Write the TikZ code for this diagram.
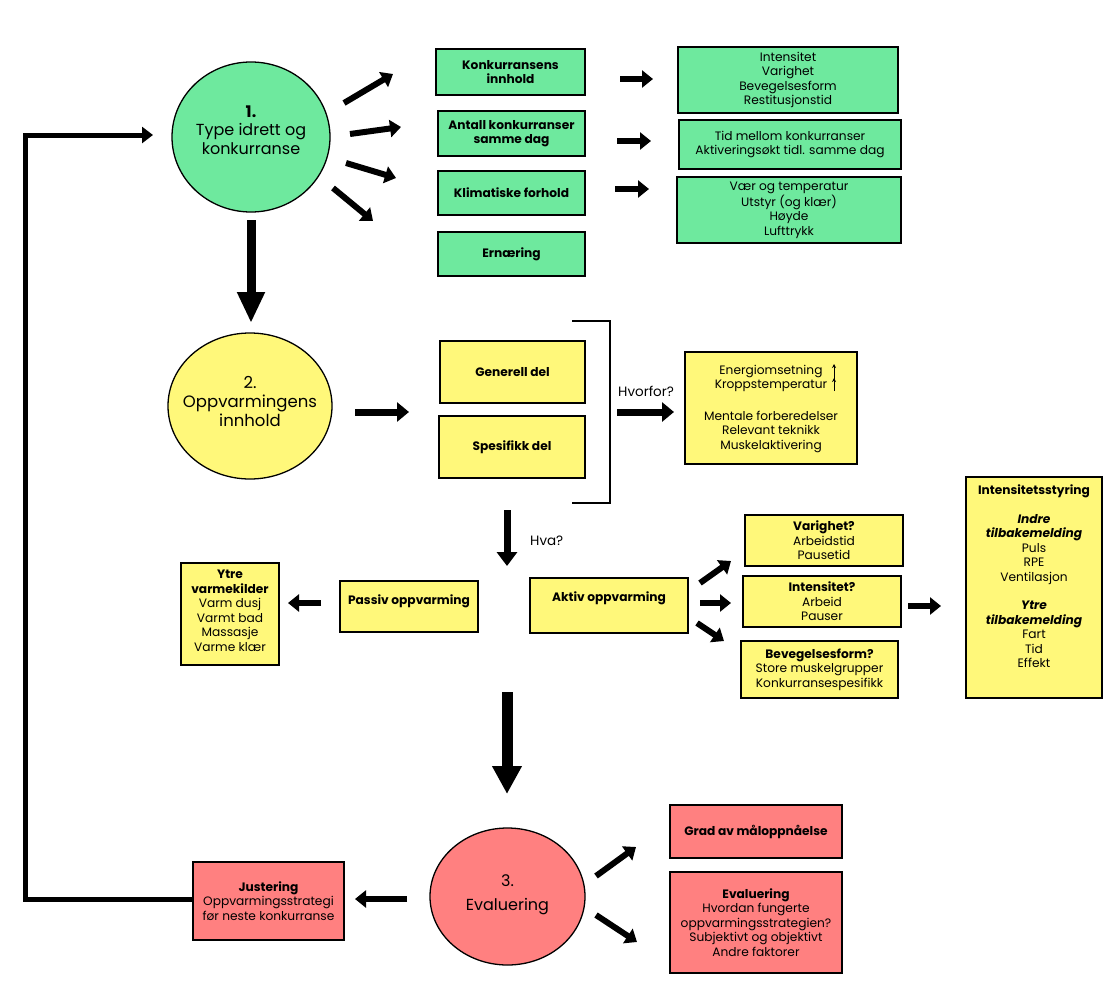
\documentclass[tikz,border=0pt]{standalone}
\usepackage{fontspec}
\setmainfont{Poppins}
\usetikzlibrary{arrows.meta,shapes.geometric,calc}
\definecolor{grn}{RGB}{110,233,158}
\definecolor{yel}{RGB}{255,248,122}
\definecolor{rd}{RGB}{255,128,128}
\tikzset{
  bx/.style={draw, line width=1.6pt, inner sep=0pt, align=center, font=\fontsize{12.2}{14.5}\selectfont},
  gb/.style={bx, fill=grn},
  yb/.style={bx, fill=yel},
  rb/.style={bx, fill=rd},
  bf/.style={font=\bfseries\fontsize{12.2}{14.5}\selectfont},
  circ/.style={ellipse, draw, line width=1.3pt, inner sep=0pt},
  arr/.style={line width=6pt, -{Triangle[length=11pt,width=17pt]}},
  txt/.style={align=center, inner sep=0pt, font=\fontsize{12.2}{14.5}\selectfont},
}
\begin{document}
\begin{tikzpicture}[x=1pt,y=-1pt]
\useasboundingbox (0,0) rectangle (1110,982);
% ---------- section 1 ----------
\node[circ, fill=grn, minimum width=158, minimum height=150] (c1) at (251,137) {};
\node[txt, font=\fontsize{16}{18.5}\selectfont] (c1t) at (251,130) {\textbf{1.}\\Type idrett og\\konkurranse};

\node[gb, bf, minimum width=149, minimum height=46] (k1) at (510.5,72) {Konkurransens\\innhold};
\node[gb, bf, minimum width=147, minimum height=45] (k2) at (511.5,133.5) {Antall konkurranser\\samme dag};
\node[gb, bf, minimum width=147, minimum height=44] (k3) at (511.5,193) {Klimatiske forhold};
\node[gb, bf, minimum width=147, minimum height=44] (k4) at (511.5,254) {Ernæring};

\node[gb, minimum width=220, minimum height=66] (d1) at (788,80) {Intensitet\\Varighet\\Bevegelsesform\\Restitusjonstid};
\node[gb, minimum width=222, minimum height=49] (d2) at (790,144.5) {Tid mellom konkurranser\\Aktiveringsøkt tidl. samme dag};
\node[gb, minimum width=224, minimum height=66] (d3) at (789,210) {Vær og temperatur\\Utstyr (og klær)\\Høyde\\Lufttrykk};

\coordinate (a1s) at (344,103); \coordinate (a1e) at (393,74);
\coordinate (a2s) at (350,134); \coordinate (a2e) at (401,127);
\coordinate (a3s) at (346,163); \coordinate (a3e) at (396,178);
\coordinate (a4s) at (333,188); \coordinate (a4e) at (373,221);
\draw[arr] (a1s) -- (a1e);
\draw[arr] (a2s) -- (a2e);
\draw[arr] (a3s) -- (a3e);
\draw[arr] (a4s) -- (a4e);

\coordinate (b1s) at (620,79); \coordinate (b1e) at (653,79);
\coordinate (b2s) at (617,141); \coordinate (b2e) at (651,141);
\coordinate (b3s) at (615,189); \coordinate (b3e) at (649,189);
\draw[arr] (b1s) -- (b1e);
\draw[arr] (b2s) -- (b2e);
\draw[arr] (b3s) -- (b3e);

\coordinate (dn1s) at (251,220); \coordinate (dn1e) at (251,323);
\draw[line width=9pt, -{Triangle[length=31pt,width=26pt]}] (dn1s) -- (dn1e);

% ---------- section 2 ----------
\node[circ, fill=yel, minimum width=164, minimum height=146] (c2) at (250,406) {};
\node[txt, font=\fontsize{16.5}{19}\selectfont] (c2t) at (250,401) {2.\\Oppvarmingens\\innhold};

\node[yb, bf, minimum width=145, minimum height=62] (g1) at (512.5,372) {Generell del};
\node[yb, bf, minimum width=146, minimum height=62] (g2) at (512,447) {Spesifikk del};

\coordinate (c2s) at (355,412); \coordinate (c2e) at (409,412);
\draw[line width=7pt, -{Triangle[length=12pt,width=19pt]}] (c2s) -- (c2e);
\coordinate (br1) at (572,321); \coordinate (br2) at (610,321);
\coordinate (br3) at (610,503); \coordinate (br4) at (572,503);
\draw[line width=1.6pt] (br1) -- (br2) -- (br3) -- (br4);

\node[txt, font=\fontsize{13.5}{16}\selectfont, anchor=west] (hv) at (618,391) {Hvorfor?};
\node[yb, minimum width=172, minimum height=112] (why) at (771,408) {};
\node[txt, anchor=north] (whyt) at (771,365) {Energiomsetning\\Kroppstemperatur\\[17pt]Mentale forberedelser\\Relevant teknikk\\Muskelaktivering};
\coordinate (hws) at (617,412); \coordinate (hwe) at (674,412);
\draw[line width=7pt, -{Triangle[length=12pt,width=19pt]}] (hws) -- (hwe);
\coordinate (ua) at (834,380);
\coordinate (ub) at (834,391);
\draw[line width=1pt, -{Stealth[length=4pt,width=4pt]}] (ua) -- ++(0,-16);
\draw[line width=1pt, -{Stealth[length=4pt,width=4pt]}] (ub) -- ++(0,-13);

\coordinate (hvs) at (507,510); \coordinate (hve) at (507,566);
\draw[line width=7pt, -{Triangle[length=14pt,width=20pt]}] (hvs) -- (hve);
\node[txt, font=\fontsize{13.5}{16}\selectfont, anchor=west] (hva) at (530,541) {Hva?};

\node[yb, minimum width=138, minimum height=51] (pas) at (409,606.5) {};
\node[txt, bf] (past) at (409,601) {Passiv oppvarming};
\node[yb, minimum width=158, minimum height=55] (akt) at (609,605.5) {};
\node[txt, bf] (aktt) at (609,598) {Aktiv oppvarming};

\node[yb, minimum width=98, minimum height=102] (ytre) at (230,614) {};
\node[txt] (ytret) at (230,611) {\textbf{Ytre}\\\textbf{varmekilder}\\Varm dusj\\Varmt bad\\Massasje\\Varme klær};
\coordinate (pys) at (321,603); \coordinate (pye) at (288,603);
\draw[arr] (pys) -- (pye);

\node[yb, minimum width=158, minimum height=51] (var) at (824,540.5) {\textbf{Varighet?}\\Arbeidstid\\Pausetid};
\node[yb, minimum width=158, minimum height=51] (int) at (822,601.5) {\textbf{Intensitet?}\\Arbeid\\Pauser};
\node[yb, minimum width=157, minimum height=57] (bev) at (819.5,669.5) {\textbf{Bevegelsesform?}\\Store muskelgrupper\\Konkurransespesifikk};

\coordinate (e1s) at (700,583); \coordinate (e1e) at (731,561);
\coordinate (e2s) at (700,603); \coordinate (e2e) at (731,603);
\coordinate (e3s) at (697,623); \coordinate (e3e) at (724,641);
\draw[arr] (e1s) -- (e1e);
\draw[arr] (e2s) -- (e2e);
\draw[arr] (e3s) -- (e3e);

\node[yb, minimum width=136, minimum height=221] (ist) at (1034,587.5) {};
\node[txt, anchor=north] (istt) at (1034,485) {\textbf{Intensitetsstyring}\\[14pt]\textbf{\itshape Indre}\\\textbf{\itshape tilbakemelding}\\Puls\\RPE\\Ventilasjon\\[14pt]\textbf{\itshape Ytre}\\\textbf{\itshape tilbakemelding}\\Fart\\Tid\\Effekt};
\coordinate (ins) at (908,606); \coordinate (ine) at (941,606);
\draw[arr] (ins) -- (ine);

\coordinate (dn2s) at (507,692); \coordinate (dn2e) at (507,794);
\draw[line width=11pt, -{Triangle[length=28pt,width=28pt]}] (dn2s) -- (dn2e);

% ---------- section 3 ----------
\node[circ, fill=rd, minimum width=155, minimum height=137] (c3) at (507.5,896.5) {};
\node[txt, font=\fontsize{16}{24}\selectfont] (c3t) at (507.5,895) {3.\\Evaluering};

\node[rb, minimum width=151, minimum height=78] (jus) at (268.5,901) {\textbf{Justering}\\Oppvarmingsstrategi\\før neste konkurranse};
\coordinate (js) at (407,899); \coordinate (je) at (355,899);
\draw[arr] (js) -- (je);

\node[rb, bf, minimum width=172, minimum height=53] (grad) at (756,831.5) {Grad av måloppnåelse};
\node[rb, minimum width=172, minimum height=101] (eva) at (756,922.5) {\textbf{Evaluering}\\Hvordan fungerte\\oppvarmingsstrategien?\\Subjektivt og objektivt\\Andre faktorer};

\coordinate (f1s) at (596,876); \coordinate (f1e) at (636,847);
\coordinate (f2s) at (596,915); \coordinate (f2e) at (637,942);
\draw[arr] (f1s) -- (f1e);
\draw[arr] (f2s) -- (f2e);

% feedback loop
\coordinate (fb1) at (25,899);
\coordinate (fb2) at (25,135);
\coordinate (fb3) at (153,135);
\draw[line width=5pt, line join=miter, -{Triangle[length=11pt,width=16pt]}] (jus.west |- fb1) -- (fb1) -- (fb2) -- (fb3);
\end{tikzpicture}
\end{document}
